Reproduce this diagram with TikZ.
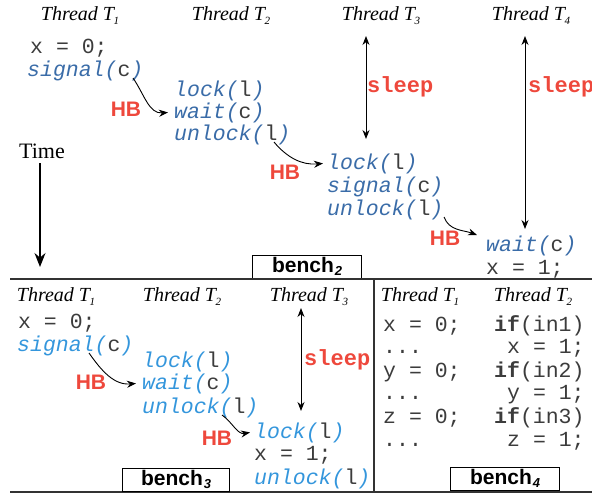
\documentclass[tikz,border=0pt]{standalone}
\usepackage{fontspec}
\setmainfont{Liberation Serif}
\setsansfont{Liberation Sans}
\setmonofont{Liberation Mono}
\usetikzlibrary{arrows.meta}
\definecolor{cbdark}{RGB}{58,108,168}
\definecolor{cblight}{RGB}{52,150,220}
\definecolor{cgray}{RGB}{60,60,60}
\definecolor{hbred}{RGB}{238,72,60}
\colorlet{cb}{cbdark}
\newcommand\codefont{\ttfamily\fontsize{21.5}{23}\selectfont}
\newcommand\thrfont{\fontsize{20}{22}\selectfont\itshape}
\newcommand\hbfont{\sffamily\bfseries\fontsize{21}{23}\selectfont}
\newcommand\cf[2]{{\color{cb}\itshape #1(}{\color{cgray}#2}{\color{cb}\itshape )}}
\newcommand\thr[1]{Thread T\kern-0.5pt\raisebox{-4pt}{\fontsize{11}{12}\selectfont #1}}
\newcommand\bench[1]{\sffamily\bfseries bench\kern1pt\raisebox{-3pt}{\fontsize{13}{14}\selectfont\itshape #1}}
\tikzset{
  code/.style={anchor=base west, inner sep=0pt, font=\codefont, text=cgray},
  thr/.style={font=\thrfont, inner sep=0pt},
  hb/.style={font=\hbfont, text=hbred, inner sep=0pt},
  sleeplbl/.style={anchor=west, inner sep=0pt, font=\ttfamily\bfseries\fontsize{22}{24}\selectfont, text=hbred},
  hbarrow/.style={-{Stealth[length=9pt,width=7pt]}, line width=0.9pt},
  sleeparrow/.style={{Stealth[length=9pt,width=7pt]}-{Stealth[length=9pt,width=7pt]}, line width=1pt},
  timearrow/.style={-{Stealth[length=14pt,width=11pt]}, line width=1.2pt},
  benchbox/.style={draw, line width=1.3pt, anchor=south west, minimum height=23pt, inner sep=0pt, font=\fontsize{21}{23}\selectfont},
  sep/.style={line width=1.3pt, draw=black!80}
}
\begin{document}
\begin{tikzpicture}[x=1pt,y=-1pt]
\clip (0,0) rectangle (592,496);
% ---------- top panel ----------
\node[thr] (a1) at (80,16) {\thr{1}};
\node[thr] (a2) at (231,16) {\thr{2}};
\node[thr] (a3) at (381,16) {\thr{3}};
\node[thr] (a4) at (531,16) {\thr{4}};
\node[code] (ax0) at (30,53) {x = 0;};
\node[code] (asig) at (27,76) {\cf{signal}{c}};
\node[code] (alock) at (174,96) {\cf{lock}{l}};
\node[code] (await) at (174,118) {\cf{wait}{c}};
\node[code] (aunl) at (174,140) {\cf{unlock}{l}};
\node[hb] (ahb1) at (126,109) {HB};
\draw[hbarrow] ([xshift=106pt,yshift=-2pt]asig.base west) to[out=-55,in=185] ([xshift=-6pt]await.west);
\coordinate (as3t) at (366,36);
\coordinate (as3b) at (366,139);
\draw[sleeparrow] (as3t) -- (as3b);
\node[sleeplbl] (asl3) at (367,87) {sleep};
\coordinate (as4t) at (525,36);
\coordinate (as4b) at (525,229);
\draw[sleeparrow] (as4t) -- (as4b);
\node[sleeplbl] (asl4) at (528,87) {sleep};
\node[font=\fontsize{22}{24}\selectfont, inner sep=0pt] (time) at (42,151) {Time};
\coordinate (timestart) at (40,163);
\coordinate (timeend) at (40,267);
\draw[timearrow] (timestart) -- (timeend);
\node[hb] (ahb2) at (285,172) {HB};
\node[code] (alock3) at (327,169) {\cf{lock}{l}};
\node[code] (asig3) at (327,192) {\cf{signal}{c}};
\node[code] (aunl3) at (327,215) {\cf{unlock}{l}};
\draw[hbarrow] ([xshift=100pt,yshift=-2pt]aunl.base west) to[out=-50,in=185] ([xshift=-4pt]alock3.west);
\node[hb] (ahb3) at (445,238) {HB};
\node[code] (await4) at (486,251) {\cf{wait}{c}};
\node[code] (ax1) at (486,274) {x = 1;};
\coordinate (a3end) at (477,235);
\draw[hbarrow] ([xshift=117pt,yshift=-2pt]aunl3.base west) to[out=-70,in=160] (a3end);
\node[benchbox, minimum width=109pt] (b2) at (252,279) {\bench{2}};
% separators
\coordinate (hl1l) at (10,279);
\coordinate (hl1r) at (592,279);
\coordinate (hl2l) at (10,492);
\coordinate (hl2r) at (592,492);
\coordinate (vlt) at (374,279);
\coordinate (vlb) at (374,492);
\draw[sep] (hl1l) -- (hl1r);
\draw[sep] (hl2l) -- (hl2r);
\draw[sep] (vlt) -- (vlb);
% ---------- bottom left panel ----------
\begin{scope}
\colorlet{cb}{cblight}
\node[thr] (b1t) at (56,297) {\thr{1}};
\node[thr] (b2t) at (182,297) {\thr{2}};
\node[thr] (b3t) at (309,297) {\thr{3}};
\node[code] (bx0) at (18,328) {x = 0;};
\node[code] (bsig) at (17,351) {\cf{signal}{c}};
\node[code] (block) at (142,367) {\cf{lock}{l}};
\node[code] (bwait) at (142,389) {\cf{wait}{c}};
\node[code] (bunl) at (142,413) {\cf{unlock}{l}};
\node[hb] (bhb1) at (91,382) {HB};
\draw[hbarrow] ([xshift=72pt,yshift=-2pt]bsig.base west) to[out=-55,in=185] ([xshift=-6pt]bwait.west);
\coordinate (bs3t) at (301,308);
\coordinate (bs3b) at (301,411);
\draw[sleeparrow] (bs3t) -- (bs3b);
\node[sleeplbl] (bsl3) at (304,360) {sleep};
\node[hb] (bhb2) at (217,438) {HB};
\node[code] (block3) at (254,438) {\cf{lock}{l}};
\node[code] (bx1) at (254,460) {x = 1;};
\node[code] (bunl3) at (254,484) {\cf{unlock}{l}};
\draw[hbarrow] ([xshift=80pt,yshift=-2pt]bunl.base west) to[out=-35,in=190] ([xshift=-4pt]block3.west);
\node[benchbox, minimum width=107pt] (b3) at (122,492) {\bench{3}};
\end{scope}
% ---------- bottom right panel ----------
\node[thr] (c1t) at (420,297) {\thr{1}};
\node[thr] (c2t) at (533,297) {\thr{2}};
\node[code] (cx0) at (383,331) {x = 0;};
\node[code] (cd1) at (383,353) {...};
\node[code] (cy0) at (383,377) {y = 0;};
\node[code] (cd2) at (383,399) {...};
\node[code] (cz0) at (383,423) {z = 0;};
\node[code] (cd3) at (383,446) {...};
\node[code] (cif1) at (494,331) {\textbf{if}(in1)};
\node[code] (cx1) at (507,353) {x = 1;};
\node[code] (cif2) at (494,377) {\textbf{if}(in2)};
\node[code] (cy1) at (507,399) {y = 1;};
\node[code] (cif3) at (494,423) {\textbf{if}(in3)};
\node[code] (cz1) at (507,446) {z = 1;};
\node[benchbox, minimum width=109pt] (b4) at (450,491) {\bench{4}};
\end{tikzpicture}
\end{document}
